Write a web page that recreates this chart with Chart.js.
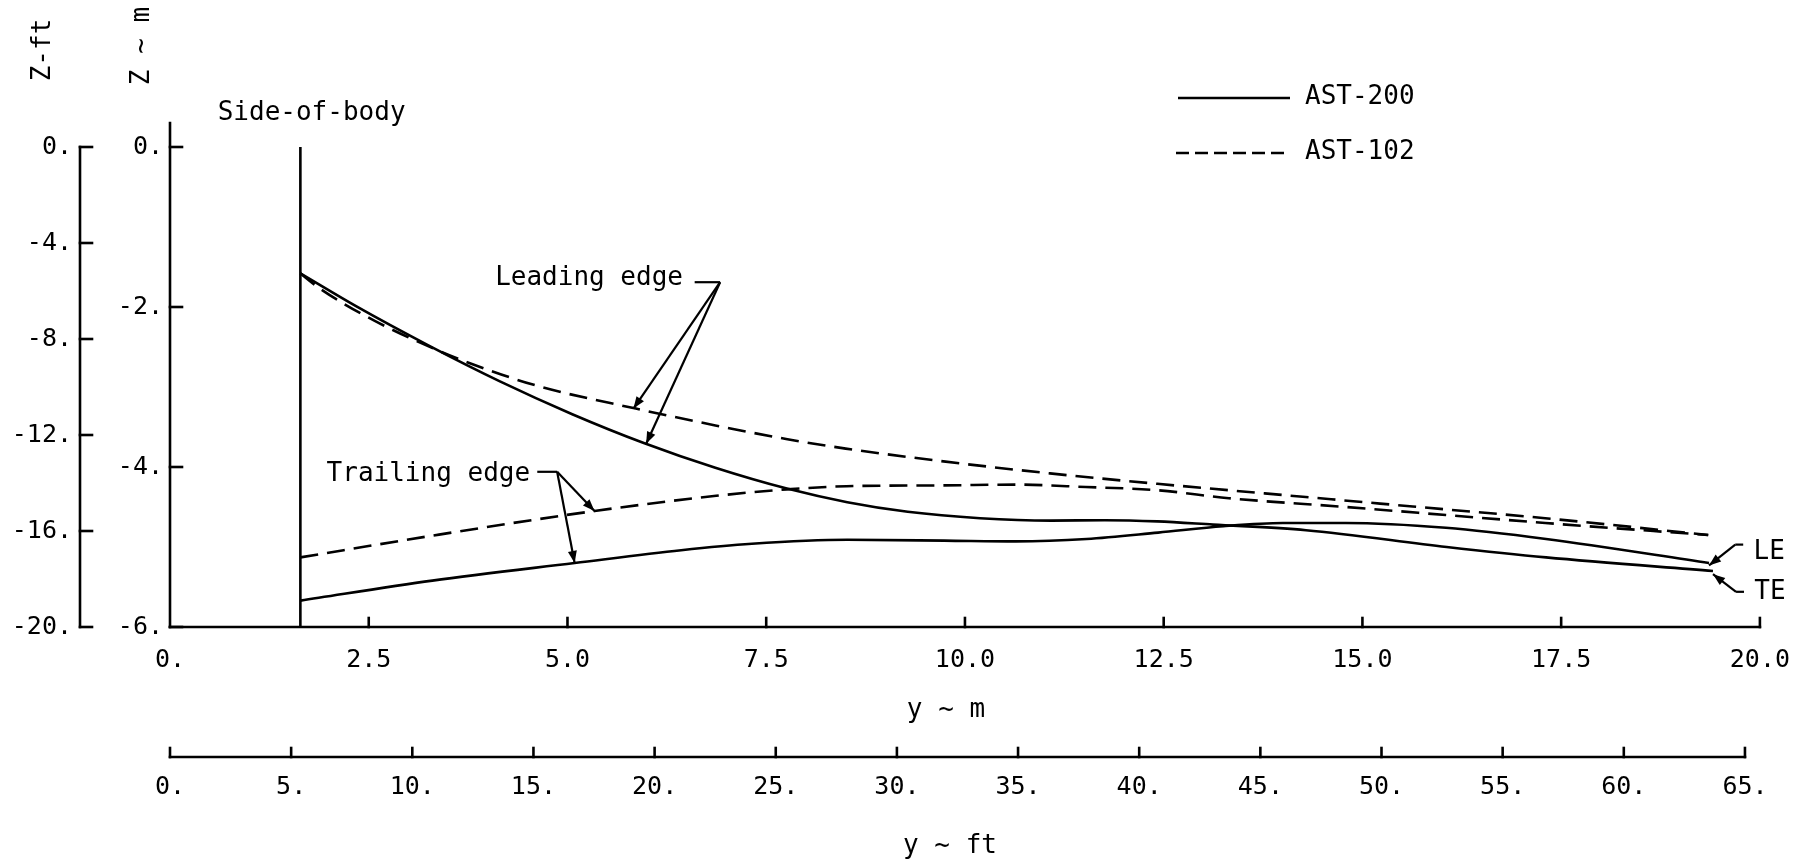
<!DOCTYPE html>
<html>
<head>
<meta charset="utf-8">
<title>Wing leading / trailing edge height vs span</title>
<script src="https://cdn.jsdelivr.net/npm/chart.js@4.4.1/dist/chart.umd.min.js"></script>
<style>
html,body{margin:0;padding:0;background:#fff;}
#wrap{position:relative;width:1808px;height:862px;}
canvas{display:block;}
</style>
</head>
<body>
<div id="wrap"><canvas id="chart" width="1808" height="862"></canvas></div>
<script>
// ---------------- data (span y in m, height Z in m) ----------------
const seriesNames = ['AST-200', 'AST-102'];

const ast200LeX = [1.64, 2.34, 3.25, 4.15, 5.06, 5.96, 6.86, 7.76, 8.52, 9.28, 10.19, 11.08, 11.76, 12.42, 13.12, 14.29, 16.06, 17.31, 19.41];
const ast200LeZ = [-1.58, -1.99, -2.48, -2.93, -3.34, -3.70, -4.01, -4.27, -4.44, -4.56, -4.64, -4.67, -4.665, -4.68, -4.72, -4.79, -5.00, -5.13, -5.30];

const ast200TeX = [1.64, 3.30, 5.09, 6.43, 7.32, 8.52, 9.74, 10.64, 11.53, 12.43, 13.25, 14.00, 14.79, 16.05, 17.31, 19.36];
const ast200TeZ = [-5.67, -5.42, -5.20, -5.04, -4.96, -4.91, -4.92, -4.93, -4.90, -4.82, -4.74, -4.70, -4.70, -4.76, -4.90, -5.20];

const ast102LeX = [1.64, 1.90, 2.57, 3.34, 3.71, 4.60, 5.86, 6.86, 7.75, 8.50, 9.73, 11.07, 12.42, 13.77, 16.05, 17.30, 19.35];
const ast102LeZ = [-1.58, -1.78, -2.17, -2.53, -2.68, -2.98, -3.27, -3.48, -3.65, -3.77, -3.93, -4.08, -4.21, -4.33, -4.53, -4.64, -4.85];

const ast102TeX = [1.64, 3.29, 5.34, 6.87, 7.76, 8.51, 9.73, 10.63, 11.52, 12.42, 13.32, 14.79, 16.05, 17.30, 19.35];
const ast102TeZ = [-5.13, -4.86, -4.55, -4.36, -4.28, -4.24, -4.23, -4.22, -4.25, -4.29, -4.39, -4.50, -4.60, -4.70, -4.85];

const sideOfBodyX = 1.64;
const sideOfBodyZ = [0, -6];

// tick values and labels
const spanTicksM = [0, 2.5, 5, 7.5, 10, 12.5, 15, 17.5, 20];
const spanLabelsM = ['0.', '2.5', '5.0', '7.5', '10.0', '12.5', '15.0', '17.5', '20.0'];
const spanTicksFt = [0, 5, 10, 15, 20, 25, 30, 35, 40, 45, 50, 55, 60, 65];
const spanLabelsFt = ['0.', '5.', '10.', '15.', '20.', '25.', '30.', '35.', '40.', '45.', '50.', '55.', '60.', '65.'];
const heightTicksM = [0, -2, -4, -6];
const heightLabelsM = ['0.', '-2.', '-4.', '-6.'];
const heightTicksFt = [0, -4, -8, -12, -16, -20];
const heightLabelsFt = ['0.', '-4.', '-8.', '-12.', '-16.', '-20.'];

// callouts (text anchor, leader and arrow tips in data units)
const callouts = [
  {text: 'Leading edge', at: [4.09, -1.64], leader: [[6.60, -1.69], [6.92, -1.69]], tips: [[5.83, -3.27], [5.99, -3.71]]},
  {text: 'Trailing edge', at: [1.97, -4.09], leader: [[4.62, -4.06], [4.87, -4.06]], tips: [[5.34, -4.55], [5.09, -5.20]]},
  {text: 'LE', at: [19.92, -5.07], leader: [[19.79, -4.97], [19.69, -4.97]], tips: [[19.36, -5.23]]},
  {text: 'TE', at: [19.93, -5.56], leader: [[19.80, -5.56], [19.70, -5.56]], tips: [[19.41, -5.34]]}
];
const sideOfBodyLabel = {text: 'Side-of-body', at: [0.60, 0.42]};

// ---------------- chart ----------------
const FONT = "'DejaVu Sans Mono', 'DejaVu Sans', monospace";
Chart.defaults.font.family = FONT;
Chart.defaults.color = '#000';

function pts(xa, za) { return xa.map((x, i) => ({x: x, y: za[i]})); }

function line(ctx, p) {
  ctx.beginPath();
  ctx.moveTo(p[0][0], p[0][1]);
  for (let i = 1; i < p.length; i++) ctx.lineTo(p[i][0], p[i][1]);
  ctx.stroke();
}
function head(ctx, from, to, len, half) {
  const a = Math.atan2(to[1] - from[1], to[0] - from[0]);
  const c = Math.cos(a), s = Math.sin(a);
  ctx.beginPath();
  ctx.moveTo(to[0], to[1]);
  ctx.lineTo(to[0] - len * c + half * s, to[1] - len * s - half * c);
  ctx.lineTo(to[0] - len * c - half * s, to[1] - len * s + half * c);
  ctx.closePath();
  ctx.fill();
}

const decor = {
  id: 'decor',
  afterDraw(chart) {
    const ctx = chart.ctx;
    const ca = chart.chartArea;
    const sx = chart.scales.x, sxf = chart.scales.xft, sy = chart.scales.y, syf = chart.scales.yft;
    const P = (d) => [sx.getPixelForValue(d[0]), sy.getPixelForValue(d[1])];
    ctx.save();
    ctx.strokeStyle = '#000';
    ctx.fillStyle = '#000';
    ctx.lineCap = 'square';
    ctx.lineWidth = 2.6;

    // Z (m) axis with inward ticks
    line(ctx, [[ca.left, ca.top], [ca.left, ca.bottom]]);
    heightTicksM.forEach(v => { const p = sy.getPixelForValue(v); line(ctx, [[ca.left, p], [ca.left + 12, p]]); });
    // y (m) axis
    const xEnd = sx.getPixelForValue(spanTicksM[spanTicksM.length - 1]);
    line(ctx, [[ca.left, ca.bottom], [xEnd, ca.bottom]]);
    spanTicksM.forEach(v => { if (v > 0) { const p = sx.getPixelForValue(v); line(ctx, [[p, ca.bottom], [p, ca.bottom - 9]]); } });
    // Z (ft) axis
    const fx = syf.right;
    line(ctx, [[fx, syf.getPixelForValue(heightTicksFt[0])], [fx, syf.getPixelForValue(heightTicksFt[heightTicksFt.length - 1])]]);
    heightTicksFt.forEach(v => { const p = syf.getPixelForValue(v); line(ctx, [[fx, p], [fx + 12, p]]); });
    // y (ft) axis
    const fy = sxf.top;
    line(ctx, [[sxf.getPixelForValue(spanTicksFt[0]), fy], [sxf.getPixelForValue(spanTicksFt[spanTicksFt.length - 1]), fy]]);
    spanTicksFt.forEach(v => { const p = sxf.getPixelForValue(v); line(ctx, [[p, fy], [p, fy - 9]]); });

    // axis titles
    ctx.font = '26px ' + FONT;
    ctx.textBaseline = 'middle';
    ctx.textAlign = 'center';
    ctx.fillText('y ~ m', 946, 710);
    ctx.fillText('y ~ ft', 950, 846);
    ctx.save(); ctx.translate(43, 50); ctx.rotate(-Math.PI / 2); ctx.fillText('Z-ft', 0, 0); ctx.restore();
    ctx.save(); ctx.translate(142, 46); ctx.rotate(-Math.PI / 2); ctx.fillText('Z ~ m', 0, 0); ctx.restore();

    // legend
    ctx.lineCap = 'butt';
    ctx.lineWidth = 2.6;
    ctx.textAlign = 'left';
    line(ctx, [[1178, 98], [1290, 98]]);
    ctx.setLineDash([13, 6]);
    line(ctx, [[1176, 153], [1288, 153]]);
    ctx.setLineDash([]);
    ctx.fillText(seriesNames[0], 1305, 97);
    ctx.fillText(seriesNames[1], 1305, 152);

    // side-of-body label
    const sb = P(sideOfBodyLabel.at);
    ctx.fillText(sideOfBodyLabel.text, sb[0], sb[1]);

    // callouts
    ctx.lineWidth = 2.2;
    callouts.forEach(c => {
      const t = P(c.at);
      ctx.fillText(c.text, t[0], t[1]);
      const lp = c.leader.map(P);
      line(ctx, lp);
      const from = lp[lp.length - 1];
      c.tips.forEach(tp => {
        const to = P(tp);
        line(ctx, [from, to]);
        head(ctx, from, to, 12, 4.5);
      });
    });
    ctx.restore();
  }
};

const solid = {borderColor: '#000', backgroundColor: '#000', borderWidth: 2.6, pointRadius: 0, fill: false, cubicInterpolationMode: 'monotone'};
const dashed = Object.assign({}, solid, {borderDash: [18, 9]});

new Chart(document.getElementById('chart'), {
  type: 'line',
  data: {
    datasets: [
      Object.assign({label: seriesNames[0] + ' leading edge', data: pts(ast200LeX, ast200LeZ)}, solid),
      Object.assign({label: seriesNames[0] + ' trailing edge', data: pts(ast200TeX, ast200TeZ)}, solid),
      Object.assign({label: seriesNames[1] + ' leading edge', data: pts(ast102LeX, ast102LeZ)}, dashed),
      Object.assign({label: seriesNames[1] + ' trailing edge', data: pts(ast102TeX, ast102TeZ)}, dashed),
      Object.assign({label: 'Side-of-body', data: sideOfBodyZ.map(z => ({x: sideOfBodyX, y: z}))}, solid, {tension: 0, cubicInterpolationMode: 'default'})
    ]
  },
  options: {
    responsive: false,
    animation: false,
    devicePixelRatio: 1,
    layout: {padding: {top: 123, right: 43, bottom: 1, left: 0}},
    plugins: {legend: {display: false}, tooltip: {enabled: false}},
    events: [],
    scales: {
      x: {
        type: 'linear', position: 'bottom', min: 0, max: 20, weight: 0,
        grid: {display: false, drawTicks: false}, border: {display: false},
        afterBuildTicks: s => { s.ticks = spanTicksM.map(v => ({value: v})); },
        afterFit: s => { s.height = 130; },
        ticks: {padding: 18, autoSkip: false, maxRotation: 0, font: {size: 25}, color: '#000',
          callback: (v, i) => spanLabelsM[i]}
      },
      xft: {
        type: 'linear', position: 'bottom', min: 0, max: 20 * 3.28084, weight: 1,
        grid: {display: false, drawTicks: false}, border: {display: false},
        afterBuildTicks: s => { s.ticks = spanTicksFt.map(v => ({value: v})); },
        afterFit: s => { s.height = 104; },
        ticks: {padding: 15, autoSkip: false, maxRotation: 0, font: {size: 25}, color: '#000',
          callback: (v, i) => spanLabelsFt[i]}
      },
      y: {
        type: 'linear', position: 'left', min: -6, max: 0.3, weight: 0,
        grid: {display: false, drawTicks: false}, border: {display: false},
        afterBuildTicks: s => { s.ticks = heightTicksM.map(v => ({value: v})); },
        afterFit: s => { s.width = 90; },
        ticks: {padding: 7, autoSkip: false, font: {size: 25}, color: '#000',
          callback: (v, i) => heightLabelsM[i]}
      },
      yft: {
        type: 'linear', position: 'left', min: -20, max: 1.0, weight: 1,
        grid: {display: false, drawTicks: false}, border: {display: false},
        afterBuildTicks: s => { s.ticks = heightTicksFt.map(v => ({value: v})); },
        afterFit: s => { s.width = 80; },
        ticks: {padding: 8, autoSkip: false, font: {size: 25}, color: '#000',
          callback: (v, i) => heightLabelsFt[i]}
      }
    }
  },
  plugins: [decor]
});
</script>
</body>
</html>
